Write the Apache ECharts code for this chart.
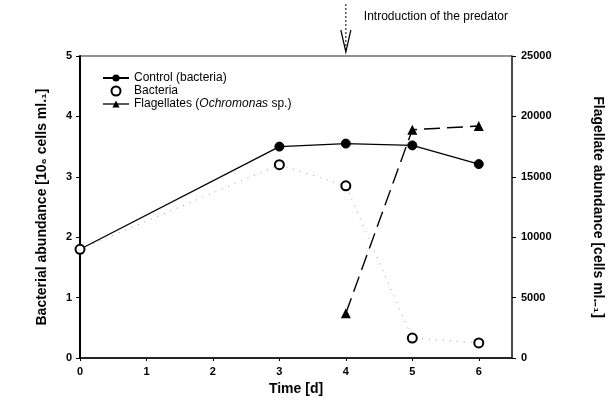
<!DOCTYPE html>
<html>
<head>
<meta charset="utf-8">
<script src="https://cdn.jsdelivr.net/npm/echarts@6/dist/echarts.min.js"></script>
<style>
  html, body { margin: 0; padding: 0; background: #fff; }
  #plot1 { width: 608px; height: 408px; }
</style>
</head>
<body>
<div id="plot1"></div>
<script>
// data
const days = [0, 3, 4, 5, 6];
const controlBacteria = [1.8, 3.5, 3.55, 3.52, 3.21];
const bacteria = [1.8, 3.2, 2.85, 0.33, 0.25];
const flagDays = [4, 5, 6];
const flagellates = [3700, 18900, 19200];
const leftTicks = [0, 1, 2, 3, 4, 5];
const rightTicks = [0, 5000, 10000, 15000, 20000, 25000];

const FONT = 'Liberation Sans, Arial, sans-serif';

function pairs(xs, ys) {
  return xs.map(function (x, i) { return [x, ys[i]]; });
}

const chartDom = document.getElementById('plot1');
const myChart = echarts.init(chartDom, null, { renderer: 'canvas' });

const option = {
  animation: false,
  backgroundColor: '#fff',
  textStyle: { fontFamily: FONT, color: '#000' },
  grid: {
    left: 80, right: 96, top: 56, bottom: 50,
    outerBoundsMode: 'none',
    containLabel: false,
    show: true, borderColor: '#222', borderWidth: 1
  },
  legend: {
    orient: 'vertical',
    left: 97, top: 67,
    itemGap: 1,
    itemWidth: 26, itemHeight: 9,
    textStyle: {
      fontFamily: FONT, fontSize: 12, color: '#000',
      rich: { i: { fontFamily: FONT, fontSize: 12, fontStyle: 'italic', color: '#000' } }
    },
    formatter: function (name) {
      if (name === 'Flagellates') return 'Flagellates ({i|Ochromonas} sp.)';
      return name;
    },
    data: [
      { name: 'Control (bacteria)' },
      { name: 'Bacteria', icon: 'emptyCircle' },
      { name: 'Flagellates', lineStyle: { type: 'solid', width: 1.3 } }
    ]
  },
  xAxis: {
    type: 'value',
    min: 0, max: 6.5, interval: 1,
    name: 'Time [d]',
    nameLocation: 'middle',
    nameGap: 24,
    nameTextStyle: { fontFamily: FONT, fontSize: 14, fontWeight: 'bold', color: '#000' },
    axisLine: { lineStyle: { color: '#000', width: 1.5 } },
    axisTick: { show: true, length: 3, lineStyle: { color: '#000' } },
    axisLabel: { showMaxLabel: false, fontFamily: FONT, fontSize: 11, fontWeight: 'bold', color: '#000', margin: 8 },
    splitLine: { show: false }
  },
  yAxis: [
    {
      type: 'value',
      min: 0, max: 5, interval: 1,
      name: 'Bacterial abundance [10\u2086 cells ml.\u2081]',
      nameLocation: 'middle',
      nameRotate: 90,
      nameGap: 31,
      nameTextStyle: { fontFamily: FONT, fontSize: 14, fontWeight: 'bold', color: '#000' },
      axisLine: { show: true, lineStyle: { color: '#000', width: 2 } },
      axisTick: { show: true, length: 4, lineStyle: { color: '#000' } },
      axisLabel: {
        fontFamily: FONT, fontSize: 11, fontWeight: 'bold', color: '#000', margin: 8,
        formatter: function (v) { return leftTicks.indexOf(v) >= 0 ? String(v) : ''; }
      },
      splitLine: { show: false }
    },
    {
      type: 'value',
      min: 0, max: 25000, interval: 5000,
      position: 'right',
      name: 'Flagellate abundance [cells ml.\u208B\u2081]',
      nameLocation: 'middle',
      nameRotate: -90,
      nameGap: 79,
      nameTextStyle: { fontFamily: FONT, fontSize: 14, fontWeight: 'bold', color: '#000' },
      axisLine: { show: true, lineStyle: { color: '#333', width: 1.5 } },
      axisTick: { show: true, length: 4, lineStyle: { color: '#000' } },
      axisLabel: {
        fontFamily: FONT, fontSize: 11, fontWeight: 'bold', color: '#000', margin: 9,
        formatter: function (v) { return rightTicks.indexOf(v) >= 0 ? String(v) : ''; }
      },
      splitLine: { show: false }
    }
  ],
  series: [
    {
      name: 'Bacteria',
      type: 'line',
      yAxisIndex: 0,
      data: pairs(days, bacteria),
      symbol: 'emptyCircle',
      symbolSize: 9,
      itemStyle: { color: '#000', borderWidth: 1.5 },
      lineStyle: { color: '#9a9a9a', width: 1, type: [1, 6] },
      z: 3
    },
    {
      name: 'Control (bacteria)',
      type: 'line',
      yAxisIndex: 0,
      data: pairs(days, controlBacteria),
      symbol: function (val) { return val[0] === 0 ? 'none' : 'circle'; },
      symbolSize: 9,
      itemStyle: { color: '#000', borderColor: '#000' },
      lineStyle: { color: '#000', width: 1.3 },
      z: 2
    },
    {
      name: 'Flagellates',
      type: 'line',
      yAxisIndex: 1,
      data: pairs(flagDays, flagellates),
      symbol: 'triangle',
      symbolSize: 10,
      itemStyle: { color: '#000' },
      lineStyle: { color: '#000', width: 1.4, type: [16, 7] },
      z: 4
    }
  ]
};

myChart.setOption(option);

// predator arrow + label above day 4
const ax = myChart.convertToPixel({ xAxisIndex: 0 }, 4);
myChart.setOption({
  graphic: [
    { type: 'line', shape: { x1: ax, y1: 4, x2: ax, y2: 50 }, style: { stroke: '#000', lineWidth: 1, lineDash: [2, 2] } },
    { type: 'polyline', shape: { points: [[ax - 5, 30], [ax, 52], [ax + 5, 30]] }, style: { stroke: '#000', lineWidth: 1.2, fill: null } },
    { type: 'text', left: ax + 18, top: 11, style: { text: 'Introduction of the predator', font: '12px ' + FONT, fill: '#000' } }
  ]
});
</script>
</body>
</html>
